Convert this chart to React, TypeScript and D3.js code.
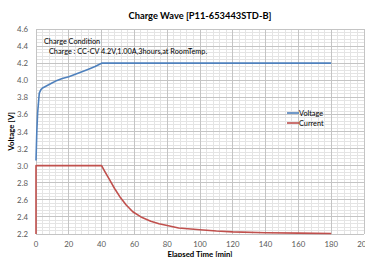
import React from "react";
import * as d3 from "d3";

// voltage curve (min, V)
const voltTime = [0, 0.5, 1, 2, 3, 4, 6, 8, 10, 12, 16, 20, 24, 28, 32, 36, 40, 60, 80, 100, 120, 140, 160, 180];
const voltValues = [3.06, 3.4, 3.62, 3.85, 3.89, 3.91, 3.93, 3.95, 3.97, 3.99, 4.02, 4.04, 4.07, 4.1, 4.13, 4.16, 4.2, 4.2, 4.2, 4.2, 4.2, 4.2, 4.2, 4.2];

// current curve, drawn on the same axis
const currTime = [0, 0, 40, 42, 45, 48, 51, 55, 59, 64, 70, 75, 80, 87, 100, 110, 120, 140, 160, 180];
const currValues = [2.2, 3.0, 3.0, 2.93, 2.83, 2.73, 2.64, 2.54, 2.46, 2.4, 2.35, 2.32, 2.3, 2.27, 2.25, 2.235, 2.225, 2.215, 2.21, 2.205];

const xTicks = [0, 20, 40, 60, 80, 100, 120, 140, 160, 180, 200];
const yTicks = [2.2, 2.4, 2.6, 2.8, 3.0, 3.2, 3.4, 3.6, 3.8, 4.0, 4.2, 4.4, 4.6];

const seriesNames = ["Voltage", "Current"];
const seriesColors = ["#4f81bd", "#c0504d"];

const W = 365;
const H = 257;
const font = "Lato, 'Liberation Sans', sans-serif";

export default function App() {
  const x = d3.scaleLinear().domain([0, 200]).range([36, 364]);
  const y = d3.scaleLinear().domain([2.2, 4.6]).range([234, 29]);

  const minorX = d3.range(0, 201, 4);
  const minorY = d3.range(2.2, 4.6001, 0.04);

  const line = d3
    .line<[number, number]>()
    .x((d) => x(d[0]))
    .y((d) => y(d[1]));

  const volt = voltTime.map((t, i) => [t, voltValues[i]] as [number, number]);
  const curr = currTime.map((t, i) => [t, currValues[i]] as [number, number]);

  return (
    <svg width={W} height={H} style={{ position: "absolute", left: 0, top: 0, background: "#fff" }} fontFamily={font}>
      <text x={200} y={19} textAnchor="middle" fontSize={9.3} fontWeight="bold" fill="#000">
        Charge Wave [P11-653443STD-B]
      </text>

      {/* minor grid */}
      <g stroke="#e4e4e4" strokeWidth={1} shapeRendering="crispEdges">
        {minorX.map((v) => (
          <line key={"mx" + v} x1={x(v)} x2={x(v)} y1={y(4.6)} y2={y(2.2)} />
        ))}
        {minorY.map((v, i) => (
          <line key={"my" + i} x1={x(0)} x2={x(200)} y1={y(v)} y2={y(v)} />
        ))}
      </g>
      {/* major grid */}
      <g stroke="#c4c4c4" strokeWidth={1} shapeRendering="crispEdges">
        {xTicks.map((v) => (
          <line key={"gx" + v} x1={x(v)} x2={x(v)} y1={y(4.6)} y2={y(2.2)} />
        ))}
        {yTicks.map((v) => (
          <line key={"gy" + v} x1={x(0)} x2={x(200)} y1={y(v)} y2={y(v)} />
        ))}
      </g>

      {/* tick labels */}
      <g fontSize={7.8} fill="#595959">
        {yTicks.map((v) => (
          <text key={"ty" + v} x={28} y={y(v) + 3} textAnchor="end">
            {d3.format(".1f")(v)}
          </text>
        ))}
        {xTicks.map((v) => (
          <text key={"tx" + v} x={x(v)} y={247} textAnchor="middle">
            {v}
          </text>
        ))}
      </g>

      <text x={200} y={257} textAnchor="middle" fontSize={7.8} fontWeight="bold" fill="#000">
        Elapsed Time [min]
      </text>
      <text transform={`translate(14,${(y(4.6) + y(2.2)) / 2}) rotate(-90)`} textAnchor="middle" fontSize={7.8} fontWeight="bold" fill="#000">
        Voltage [V]
      </text>

      <path d={line(curr) || ""} fill="none" stroke={seriesColors[1]} strokeWidth={1.6} strokeLinejoin="round" />
      <path d={line(volt) || ""} fill="none" stroke={seriesColors[0]} strokeWidth={1.6} strokeLinejoin="round" />

      {/* annotation */}
      <g fontSize={7.3} fill="#000">
        <text x={44} y={44}>Charge Condition</text>
        <text x={49} y={54}>Charge : CC-CV 4.2V,1.00A,3hours,at RoomTemp.</text>
      </g>

      {/* legend */}
      <g fontSize={7.3} fill="#000">
        {seriesNames.map((n, i) => (
          <g key={n} transform={`translate(287,${113 + i * 10})`}>
            <line x1={0} x2={12} y1={0} y2={0} stroke={seriesColors[i]} strokeWidth={1.6} />
            <text x={12} y={2.6}>{n}</text>
          </g>
        ))}
      </g>
    </svg>
  );
}
